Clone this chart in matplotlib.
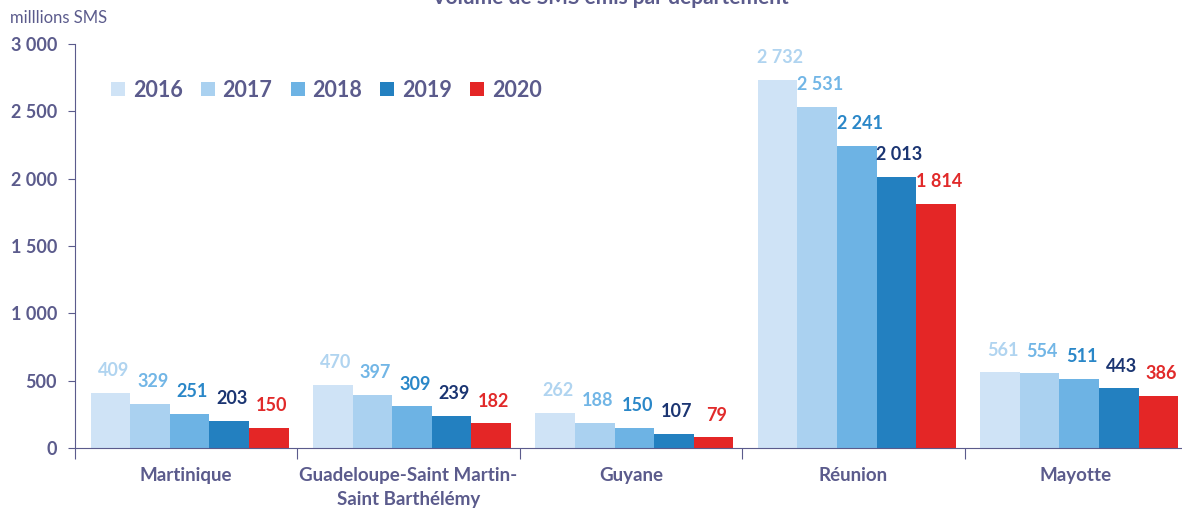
import matplotlib
matplotlib.use("Agg")
import matplotlib.pyplot as plt
import numpy as np

plt.rcParams['font.family'] = ['Lato', 'DejaVu Sans']

departements = ['Martinique', 'Guadeloupe-Saint Martin-\nSaint Barthélémy', 'Guyane', 'Réunion', 'Mayotte']
annees = ['2016', '2017', '2018', '2019', '2020']
v2016 = [409, 470, 262, 2732, 561]
v2017 = [329, 397, 188, 2531, 554]
v2018 = [251, 309, 150, 2241, 511]
v2019 = [203, 239, 107, 2013, 443]
v2020 = [150, 182, 79, 1814, 386]
series = [v2016, v2017, v2018, v2019, v2020]

bar_colors = ['#cfe3f6', '#aad1f0', '#6db3e4', '#2380c0', '#e42626']
lab_colors = ['#b0d4f0', '#72b6e6', '#2a87c8', '#1b3572', '#e12a2a']
txt = '#5b5b8c'

def fmt(v):
    return '{:,}'.format(v).replace(',', ' ')

fig = plt.figure(figsize=(11.82, 5.09), dpi=100)
ax = fig.add_axes([75/1182, 61/509, 1112/1182, 404/509])

x = np.arange(len(departements))
w = 0.178
for i, (vals, c, lc, yr) in enumerate(zip(series, bar_colors, lab_colors, annees)):
    pos = x + (i - 2) * w + 0.015
    ax.bar(pos, vals, width=w, color=c, label=yr, zorder=2)
    for p, v in zip(pos, vals):
        ax.annotate(fmt(v), (p, v), xytext=(2, 16), textcoords='offset points',
                    ha='center', va='center', fontsize=13, fontweight='bold', color=lc)

ax.set_xlim(-0.5, 4.5)
ax.set_ylim(0, 3000)
ax.set_yticks(np.arange(0, 3001, 500))
ax.set_yticklabels([fmt(v) for v in range(0, 3001, 500)], fontsize=13, fontweight='bold', color=txt)

ax.set_xticks(np.arange(-0.5, 4.6, 1))
ax.set_xticklabels([])
ax.set_xticks(x, minor=True)
ax.set_xticklabels(departements, minor=True, fontsize=13.5, fontweight='bold', color=txt,
                   linespacing=1.5)
ax.tick_params(axis='x', which='major', length=8, color=txt, direction='out')
ax.tick_params(axis='x', which='minor', length=0, pad=14)
ax.tick_params(axis='y', length=5, color=txt, pad=8)

for s in ['top', 'right']:
    ax.spines[s].set_visible(False)
ax.spines['left'].set_color(txt)
ax.spines['bottom'].set_color(txt)

leg = fig.legend(loc='center left', bbox_to_anchor=(92/1182, 1 - 90/509), ncol=5, frameon=False,
                 handlelength=0.65, handleheight=0.65, handletextpad=0.35, columnspacing=0.85,
                 prop={'weight': 'bold', 'size': 15.5})
for t in leg.get_texts():
    t.set_color(txt)

fig.text(10/1182, 1 - 18/509, 'milllions SMS', fontsize=12, color=txt, va='center', ha='left')
fig.text(610/1182, 1 + 2/509, 'Volume de SMS émis par département', fontsize=15, fontweight='bold',
         color=txt, va='center', ha='center')

fig.savefig('out.png', dpi=100)
